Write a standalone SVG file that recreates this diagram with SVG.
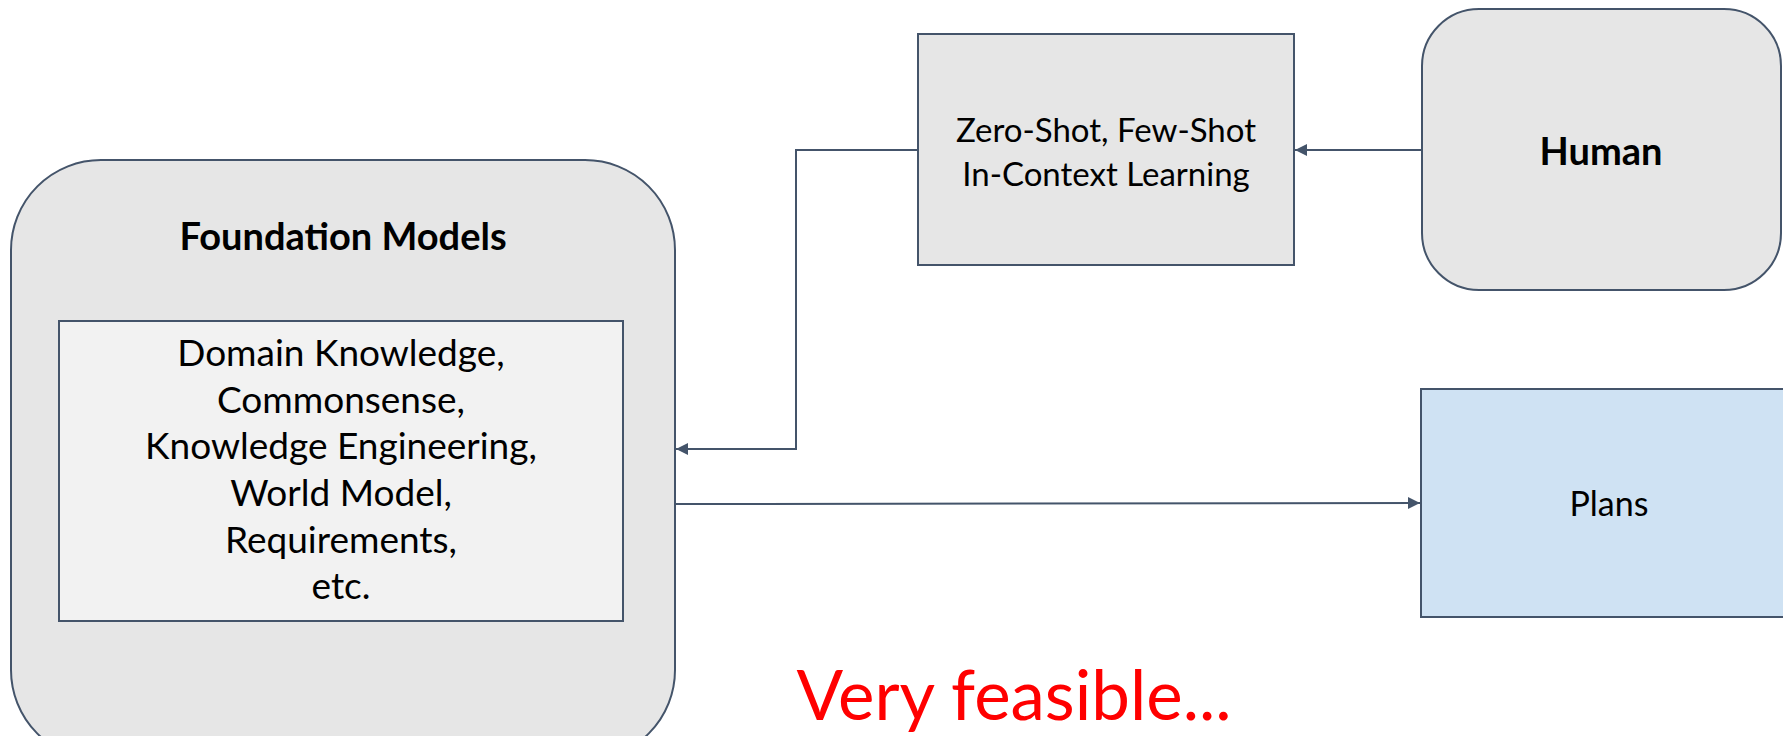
<svg xmlns="http://www.w3.org/2000/svg" width="1783" height="736" viewBox="0 0 1783 736">
<defs>
<style>
.n{stroke:#44546A;stroke-width:2}
.g{fill:#E6E6E6}
.t{font-family:Lato,"Liberation Sans",sans-serif;fill:#000;text-anchor:middle}
.b{font-weight:bold}
.c{fill:none;stroke:#44546A;stroke-width:2}
</style>
<marker id="ah" viewBox="0 0 10 10" refX="10" refY="5" markerWidth="6" markerHeight="6" markerUnits="strokeWidth" orient="auto">
<path d="M0,0 L10,5 L0,10 z" fill="#44546A"/>
</marker>
</defs>
<rect width="1783" height="736" fill="#fff"/>
<g id="foundation">
<rect class="n g" x="11" y="160" width="664" height="600" rx="90" ry="90"/>
<text class="t b" x="343" y="250" font-size="38">Foundation Models</text>
<rect class="n" x="59" y="321" width="564" height="300" fill="#F2F2F2"/>
<text class="t" x="341" font-size="37"><tspan x="341" y="366">Domain Knowledge,</tspan><tspan x="341" y="413">Commonsense,</tspan><tspan x="341" y="459">Knowledge Engineering,</tspan><tspan x="341" y="506">World Model,</tspan><tspan x="341" y="553">Requirements,</tspan><tspan x="341" y="599">etc.</tspan></text>
</g>
<g id="incontext">
<rect class="n g" x="918" y="34" width="376" height="231"/>
<text class="t" font-size="33"><tspan x="1106" y="142">Zero-Shot, Few-Shot</tspan><tspan x="1106" y="186">In-Context Learning</tspan></text>
</g>
<g id="human">
<rect class="n g" x="1422" y="9" width="359" height="281" rx="57" ry="57"/>
<text class="t b" x="1601" y="165" font-size="38">Human</text>
</g>
<g id="plans">
<rect class="n" x="1421" y="389" width="380" height="228" fill="#CFE2F3"/>
<text class="t" x="1609" y="516" font-size="34">Plans</text>
</g>
<text id="feasible" x="1014" y="720" font-family="Lato,'Liberation Sans',sans-serif" font-size="69" fill="#FF0000" text-anchor="middle">Very feasible...</text>
<g id="connectors">
<path class="c" d="M1422,150 L1295,150" marker-end="url(#ah)"/>
<path class="c" d="M918,150 L796,150 L796,449 L676,449" marker-end="url(#ah)"/>
<path class="c" d="M675,504 L1420,503" marker-end="url(#ah)"/>
</g>
</svg>
